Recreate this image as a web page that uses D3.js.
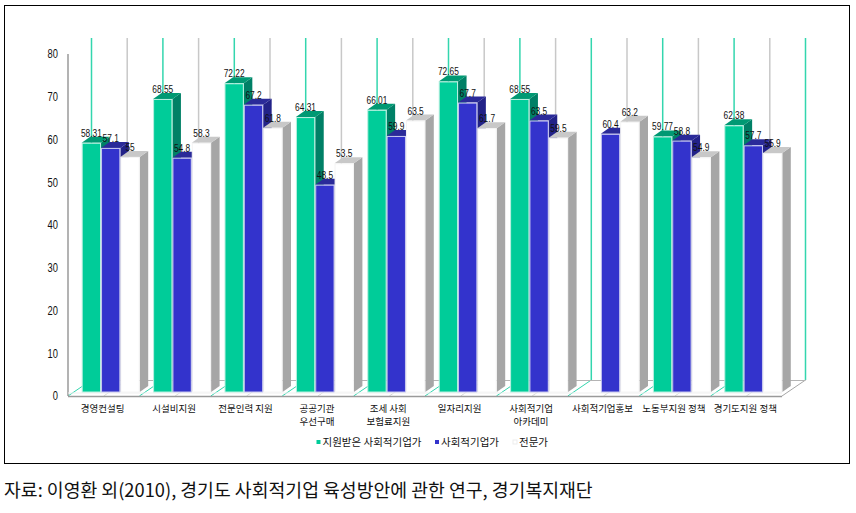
<!DOCTYPE html>
<html><head><meta charset="utf-8">
<script src="https://cdn.jsdelivr.net/npm/d3@7/dist/d3.min.js"></script>
<style>
html,body{margin:0;padding:0;background:#fff}
svg{display:block}
text{font-family:"Liberation Sans",sans-serif;fill:#111}
.kr{font-family:"Noto Sans CJK KR","Noto Sans",sans-serif}
</style></head><body><div id="c"></div>
<script>
const categories=[["경영컨설팅"],["시설비지원"],["전문인력 지원"],["공공기관","우선구매"],["조세 사회","보험료지원"],["일자리지원"],["사회적기업","아카데미"],["사회적기업홍보"],["노동부지원 정책"],["경기도지원 정책"]];
const seriesNames=["지원받은 사회적기업가","사회적기업가","전문가"];
const supported=[58.31,68.55,72.22,64.31,66.01,72.65,68.55,null,59.77,62.38];
const entrepreneurs=[57.1,54.8,67.2,48.5,59.9,67.7,63.5,60.4,58.8,57.7];
const experts=[55,58.3,61.8,53.5,63.5,61.7,59.5,63.2,54.9,55.9];
const yTicks=[0,10,20,30,40,50,60,70,80];
const allSeries=[supported,entrepreneurs,experts];
const palette=[
 {front:"#00CC99",side:"#008066",top:"#009973",edge:"#B8F0E0"},
 {front:"#3333CC",side:"#222288",top:"#2A2A99",edge:"#C8C8F0"},
 {front:"#FFFFFF",side:"#A6A6A6",top:"#C8C8C8",edge:"#F4F4F4"}];
const W=856,H=513,wallDx=23.5,wallDy=16,barDx=13.7,barDy=4,dx3=8.5,dy3=6;
const svg=d3.select("#c").append("svg").attr("width",W).attr("height",H);
svg.append("rect").attr("x",4.5).attr("y",5.5).attr("width",845).attr("height",458).attr("fill","#fff").attr("stroke","#000").attr("stroke-width",1);
const y=d3.scaleLinear().domain([0,80]).range([396,54]);
const x0=d3.scaleBand().domain(d3.range(categories.length)).range([68,782]);
const x1=d3.scaleBand().domain(d3.range(3)).range([barDx,barDx+58]);
const gridTop=38,gridBot=y(0)-wallDy;
const guides=d3.range(categories.length*2+1);
const gx=i=>68+i*x0.bandwidth()/2;
svg.append("g").selectAll("line").data(guides).join("line")
 .attr("x1",i=>gx(i)+wallDx).attr("x2",i=>gx(i)+wallDx).attr("y1",gridTop).attr("y2",gridBot)
 .attr("stroke",i=>i%2?"#C8C8C8":"#33D6AE").attr("stroke-width",1.5);
svg.append("g").selectAll("line").data(guides).join("line")
 .attr("x1",i=>gx(i)).attr("x2",i=>gx(i)+wallDx).attr("y1",y(0)).attr("y2",gridBot)
 .attr("stroke",i=>i==20?"#A6A6A6":i%2?"#D8D8D8":"#33D6AE").attr("stroke-width",1);
svg.append("line").attr("x1",68+wallDx).attr("x2",782+wallDx).attr("y1",gridBot+.5).attr("y2",gridBot+.5).attr("stroke","#B4B4B4");
svg.append("line").attr("x1",68).attr("x2",68).attr("y1",y(80)).attr("y2",y(0)).attr("stroke","#9A9A9A").attr("stroke-width",1.5);
svg.append("line").attr("x1",68).attr("x2",782).attr("y1",y(0)+.5).attr("y2",y(0)+.5).attr("stroke","#9A9A9A").attr("stroke-width",1.5);
svg.append("line").attr("x1",68).attr("x2",782).attr("y1",y(0)-3).attr("y2",y(0)-3).attr("stroke","#EFEFEF");
const yAxis=d3.axisLeft(y).tickValues(yTicks).tickSize(0).tickPadding(10);
const ag=svg.append("g").attr("transform","translate(68,0)").call(yAxis);
ag.select(".domain").remove();
ag.selectAll("text").attr("x",0).attr("font-size",12).attr("transform","translate(-10,0) scale(0.78,1)")
 .style("font-family",'"Liberation Sans",sans-serif').attr("fill","#111");
const records=[];
categories.forEach((c,i)=>allSeries.forEach((s,k)=>{if(s[i]!=null)records.push({i,k,v:s[i]})}));
const bw=x1.bandwidth();
const g=svg.append("g");
const bx=d=>x0(d.i)+x1(d.k), by=d=>y(d.v)-barDy, base=y(0)-barDy;
const bars=g.selectAll("g").data(records).join("g");
bars.append("path").attr("fill",d=>palette[d.k].side)
 .attr("d",d=>`M${bx(d)+bw},${by(d)}L${bx(d)+bw+dx3},${by(d)-dy3}L${bx(d)+bw+dx3},${base-dy3}L${bx(d)+bw},${base}Z`);
bars.append("path").attr("fill",d=>palette[d.k].top)
 .attr("d",d=>`M${bx(d)},${by(d)}L${bx(d)+dx3},${by(d)-dy3}L${bx(d)+bw+dx3},${by(d)-dy3}L${bx(d)+bw},${by(d)}Z`);
bars.append("rect").attr("x",d=>bx(d)+.5).attr("y",d=>by(d)+.5).attr("width",bw-1).attr("height",d=>base-by(d)-.5)
 .attr("fill",d=>palette[d.k].front).attr("stroke",d=>palette[d.k].edge).attr("stroke-width",1);
svg.append("g").selectAll("text").data(records).join("text")
 .attr("transform",d=>`translate(${bx(d)+bw/2},${by(d)-6}) scale(0.76,1)`).attr("text-anchor","middle").attr("font-size",11)
 .text(d=>d.v);
const cg=svg.append("g").selectAll("text").data(categories).join("text").attr("class","kr")
 .attr("text-anchor","middle").attr("font-size",9.5).attr("y",412)
 .attr("transform",(c,i)=>`translate(${x0(i)+x0.bandwidth()/2-1},0)`);
cg.selectAll("tspan").data(d=>d).join("tspan").attr("x",0).attr("dy",(d,j)=>j?12.5:0).text(d=>d);
const legendX=[316.5,435,513];
const lg=svg.append("g").selectAll("g").data(seriesNames).join("g").attr("transform",(d,i)=>`translate(${legendX[i]},0)`);
lg.append("rect").attr("y",440).attr("width",4).attr("height",4).attr("fill",(d,i)=>palette[i].front).attr("stroke",(d,i)=>i==2?"#EDEDED":"none");
lg.append("text").attr("class","kr").attr("x",6).attr("y",446).attr("font-size",10.5).text(d=>d);
svg.append("text").attr("class","kr").attr("x",4).attr("y",497).attr("font-size",18.3).text("자료: 이영환 외(2010), 경기도 사회적기업 육성방안에 관한 연구, 경기복지재단");
</script></body></html>
